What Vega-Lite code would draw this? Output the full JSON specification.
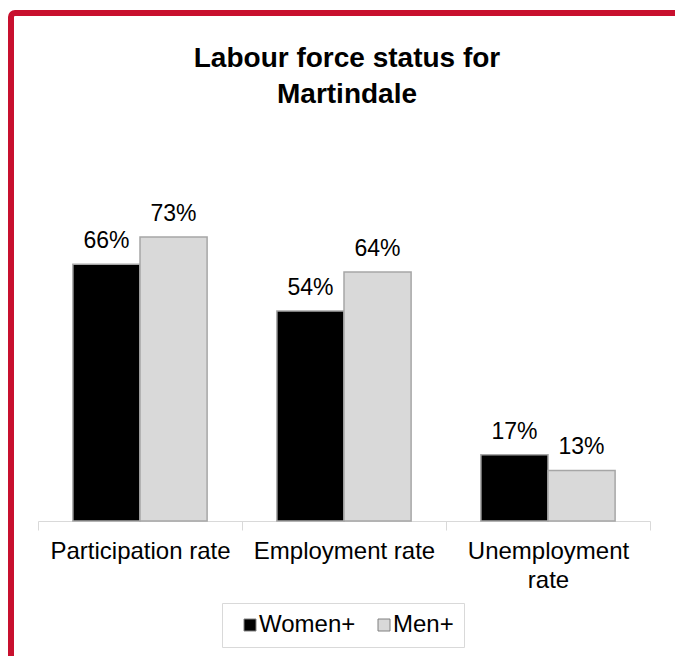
{
  "$schema": "https://vega.github.io/schema/vega-lite/v6.json",
  "autosize": {"type": "none"},
  "padding": {"left": 11, "top": 13, "right": -8, "bottom": -17},
  "width": 672,
  "height": 660,
  "background": "white",
  "config": {
    "font": "Liberation Sans",
    "view": {"stroke": "#c8102e", "strokeWidth": 6, "cornerRadius": 4},
    "axis": {"grid": false}
  },
  "title": {
    "text": ["Labour force status for", "Martindale"],
    "fontSize": 28,
    "fontWeight": "bold",
    "font": "Liberation Sans",
    "color": "black",
    "anchor": "middle",
    "baseline": "top",
    "offset": -96,
    "lineHeight": 36
  },
  "data": {
    "values": [
      {"measure": "Participation rate", "group": "Women+", "value": 0.66},
      {"measure": "Participation rate", "group": "Men+", "value": 0.73},
      {"measure": "Employment rate", "group": "Women+", "value": 0.54},
      {"measure": "Employment rate", "group": "Men+", "value": 0.64},
      {"measure": "Unemployment rate", "group": "Women+", "value": 0.17},
      {"measure": "Unemployment rate", "group": "Men+", "value": 0.13}
    ]
  },
  "encoding": {
    "x": {
      "field": "measure",
      "type": "nominal",
      "sort": ["Participation rate", "Employment rate", "Unemployment rate"],
      "scale": {"range": [27, 639], "paddingInner": 0, "paddingOuter": 0},
      "axis": {
        "title": null,
        "orient": "bottom",
        "offset": -152,
        "labelAngle": 0,
        "labelFontSize": 24,
        "labelColor": "black",
        "labelLimit": 400,
        "labelPadding": 9,
        "labelLineHeight": 29,
        "labelExpr": "datum.label == 'Unemployment rate' ? ['Unemployment', 'rate'] : datum.label",
        "domainColor": "#d9d9d9",
        "domainWidth": 1,
        "tickColor": "#d9d9d9",
        "tickSize": 9,
        "tickBand": "extent"
      }
    },
    "xOffset": {
      "field": "group",
      "type": "nominal",
      "sort": ["Women+", "Men+"],
      "scale": {"paddingInner": 0, "paddingOuter": 0.52}
    },
    "y": {
      "field": "value",
      "type": "quantitative",
      "scale": {"domain": [0, 1], "range": [508, 119]},
      "axis": null
    }
  },
  "layer": [
    {
      "mark": {"type": "bar", "stroke": "#a6a6a6", "strokeWidth": 1.5},
      "encoding": {
        "fill": {
          "field": "group",
          "type": "nominal",
          "sort": ["Women+", "Men+"],
          "scale": {"domain": ["Women+", "Men+"], "range": ["#000000", "#d9d9d9"]},
          "legend": {
            "title": null,
            "orient": "none",
            "direction": "horizontal",
            "legendX": 211,
            "legendY": 590,
            "padding": 10,
            "strokeColor": "#d9d9d9",
            "symbolType": "square",
            "symbolSize": 144,
            "symbolStrokeColor": "#808080",
            "symbolStrokeWidth": 1,
            "symbolOffset": 6,
            "labelFontSize": 24,
            "labelColor": "black",
            "labelOffset": -3,
            "labelLimit": 300,
            "columnPadding": 10
          }
        }
      }
    },
    {
      "mark": {"type": "text", "baseline": "alphabetic", "dy": -16, "fontSize": 23, "color": "black"},
      "encoding": {
        "text": {"field": "value", "type": "quantitative", "format": ".0%"}
      }
    }
  ]
}
